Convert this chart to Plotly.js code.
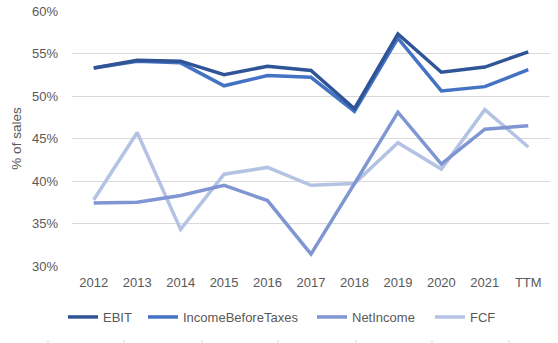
<!DOCTYPE html>
<html>
<head>
<meta charset="utf-8">
<script src="https://cdn.plot.ly/plotly-3.0.1.min.js"></script>
<style>html,body{margin:0;padding:0;background:#fff;}#chart{width:558px;height:343px;}</style>
</head>
<body>
<div id="chart"></div>
<script>
const categories = ["2012","2013","2014","2015","2016","2017","2018","2019","2020","2021","TTM"];
const ebit = [53.3, 54.2, 54.1, 52.5, 53.5, 53.0, 48.5, 57.3, 52.8, 53.4, 55.2];
const incomeBeforeTaxes = [53.3, 54.1, 53.9, 51.2, 52.4, 52.2, 48.2, 56.8, 50.6, 51.1, 53.1];
const netIncome = [37.4, 37.5, 38.3, 39.5, 37.7, 31.4, 39.7, 48.1, 42.0, 46.1, 46.5];
const fcf = [37.8, 45.7, 34.3, 40.8, 41.6, 39.5, 39.7, 44.5, 41.4, 48.4, 44.0];
const seriesNames = ["EBIT","IncomeBeforeTaxes","NetIncome","FCF"];
const yTickVals = [30,35,40,45,50,55,60];

const colors = ["#2F5597","#4472C4","#7F96D3","#B4C2E3"];
const legendIds = ["legend","legend2","legend3","legend4"];
const allSeries = [ebit, incomeBeforeTaxes, netIncome, fcf];
const traces = allSeries.map((vals, i) => ({
  type: "scatter", mode: "lines",
  x: categories, y: vals, name: seriesNames[i],
  legend: legendIds[i],
  line: {color: colors[i], width: 3.5},
  hoverinfo: "skip"
}));
traces.reverse();

const font = {family: "Liberation Sans, Arial, sans-serif", size: 13, color: "#595959"};
const tickXs = [48,124,202,278,356,432,509];
const shapes = tickXs.map(px => ({
  type: "line", xref: "paper", yref: "paper",
  x0: (px-72)/478, x1: (px-72)/478, y0: -0.29, y1: -0.31,
  line: {color: "#d9d9d9", width: 1}
}));

const legendX = [63, 143, 312, 430];
const layout = {
  width: 558, height: 343,
  margin: {l: 72, r: 8, t: 11, b: 77},
  paper_bgcolor: "#ffffff", plot_bgcolor: "#ffffff",
  font: font,
  showlegend: true,
  xaxis: {type: "category", range: [-0.5, 10.5], showgrid: false, zeroline: false,
          showline: false, ticks: "", tickfont: font, ticklabelstandoff: 7, fixedrange: true},
  yaxis: {range: [30, 60], tickvals: yTickVals, ticktext: yTickVals.map(v => v + "%"),
          showgrid: true, gridcolor: "#d9d9d9", gridwidth: 1, zeroline: false, showline: false,
          ticks: "", tickfont: font, ticklabelstandoff: 13,
          title: {text: "% of sales", font: {family: font.family, size: 13.5, color: "#595959"}, standoff: 7}},
  shapes: shapes
};
legendIds.forEach((id, i) => {
  layout[id] = {orientation: "h", x: (legendX[i]-72)/478, xanchor: "left", y: -0.2, yanchor: "middle",
                font: font, itemwidth: 30, bgcolor: "rgba(0,0,0,0)"};
});
Plotly.newPlot("chart", traces, layout, {displayModeBar: false, staticPlot: true});
</script>
</body>
</html>
